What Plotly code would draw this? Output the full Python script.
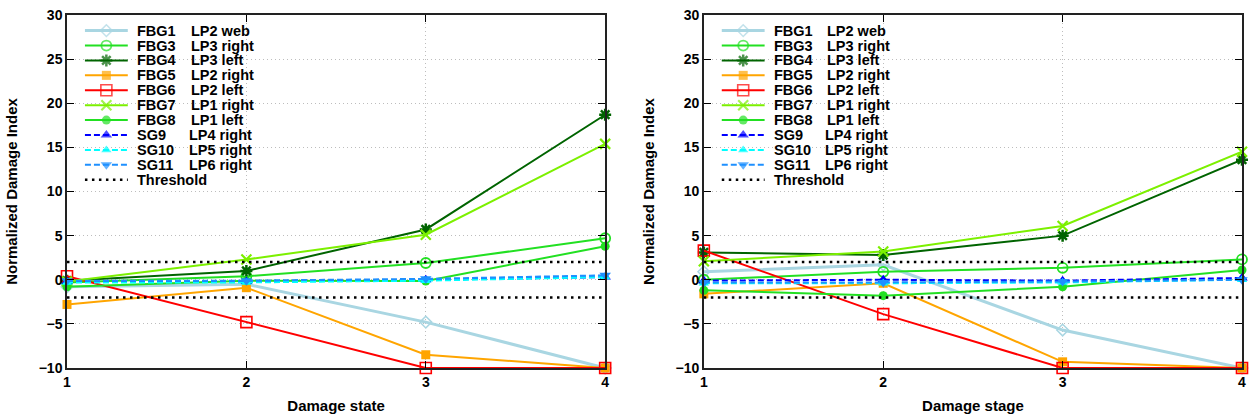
import plotly.graph_objects as go

# ---- data -------------------------------------------------------------
stages = [1, 2, 3, 4]

sensor_names = ["FBG1", "FBG3", "FBG4", "FBG5", "FBG6", "FBG7", "FBG8", "SG9", "SG10", "SG11"]
locations = ["LP2 web", "LP3 right", "LP3 left", "LP2 right", "LP2 left",
             "LP1 right", "LP1 left", "LP4 right", "LP5 right", "LP6 right"]

# Normalized damage index vs damage state (left panel)
state_fbg1 = [-0.8, -0.5, -4.8, -10.0]
state_fbg3 = [-0.3, 0.4, 1.9, 4.7]
state_fbg4 = [-0.1, 1.0, 5.7, 18.7]
state_fbg5 = [-2.8, -0.9, -8.5, -10.0]
state_fbg6 = [0.4, -4.8, -10.0, -10.0]
state_fbg7 = [-0.2, 2.3, 5.1, 15.4]
state_fbg8 = [-0.8, -0.1, -0.15, 3.8]
state_sg9 = [-0.2, -0.2, 0.0, 0.3]
state_sg10 = [-0.3, -0.3, -0.1, 0.3]
state_sg11 = [-0.1, -0.1, 0.1, 0.5]

# Normalized damage index vs damage stage (right panel)
stage_fbg1 = [0.9, 1.7, -5.7, -10.0]
stage_fbg3 = [0.0, 0.9, 1.35, 2.3]
stage_fbg4 = [3.1, 2.8, 5.0, 13.6]
stage_fbg5 = [-1.6, -0.4, -9.3, -10.0]
stage_fbg6 = [3.3, -3.9, -10.0, -10.0]
stage_fbg7 = [2.1, 3.2, 6.1, 14.5]
stage_fbg8 = [-1.2, -1.8, -0.8, 1.1]
stage_sg9 = [-0.1, 0.0, -0.1, 0.2]
stage_sg10 = [-0.4, -0.4, -0.3, 0.0]
stage_sg11 = [-0.3, -0.3, -0.2, 0.0]

threshold = 2.0
y_ticks = [-10, -5, 0, 5, 10, 15, 20, 25, 30]
x_title_left = "Damage state"
x_title_right = "Damage stage"
y_title = "Normalized Damage Index"

left_series = [state_fbg1, state_fbg3, state_fbg4, state_fbg5, state_fbg6,
               state_fbg7, state_fbg8, state_sg9, state_sg10, state_sg11]
right_series = [stage_fbg1, stage_fbg3, stage_fbg4, stage_fbg5, stage_fbg6,
                stage_fbg7, stage_fbg8, stage_sg9, stage_sg10, stage_sg11]

# ---- styles -----------------------------------------------------------
styles = [
    dict(color="#a9d6e2", width=3.0, dash="solid", symbol="diamond-open", size=9, mlw=1.5),
    dict(color="#22e022", width=2.0, dash="solid", symbol="circle-open", size=10, mlw=1.8),
    dict(color="#006400", width=2.0, dash="solid", symbol="asterisk-open", size=10, mlw=2.5),
    dict(color="#ffa500", width=2.0, dash="solid", symbol="square", size=9, mlw=0),
    dict(color="#ff0000", width=2.0, dash="solid", symbol="square-open", size=11, mlw=1.6),
    dict(color="#7cf000", width=2.0, dash="solid", symbol="x-thin-open", size=10, mlw=2.2),
    dict(color="#22e022", width=2.0, dash="solid", symbol="circle", size=9, mlw=0),
    dict(color="#0000ff", width=2.0, dash="6px,3px", symbol="triangle-up", size=10, mlw=0),
    dict(color="#00ffff", width=2.0, dash="6px,3px", symbol="triangle-up", size=9, mlw=0),
    dict(color="#1e90ff", width=2.0, dash="6px,3px", symbol="triangle-down", size=10, mlw=0),
]

FONT = "Liberation Sans, Arial, Helvetica, sans-serif"
W, H = 1253, 419
M_L, M_R, M_T, M_B = 67, 7, 15, 49
PLOT_W = W - M_L - M_R
PLOT_H = H - M_T - M_B
PANEL_W = 540
left_dom = [0.0, PANEL_W / PLOT_W]
right_dom = [1.0 - PANEL_W / PLOT_W, 1.0]

fig = go.Figure()


def add_panel(series, xa, ya):
    for vals, st in zip(series, styles):
        fig.add_trace(go.Scatter(
            x=stages, y=vals, mode="lines+markers", xaxis=xa, yaxis=ya,
            line=dict(color=st["color"], width=st["width"], dash=st["dash"]),
            marker=dict(symbol=st["symbol"], size=st["size"], color=st["color"],
                        line=dict(color=st["color"], width=st["mlw"])),
            cliponaxis=False, showlegend=False, hoverinfo="skip"))
    for level in (threshold, -threshold):
        fig.add_trace(go.Scatter(
            x=[stages[0], stages[-1]], y=[level, level], mode="lines",
            xaxis=xa, yaxis=ya, line=dict(color="black", width=2.5, dash="2.5px,4.5px"),
            showlegend=False, hoverinfo="skip"))


def add_key(xa, ya, xref, yref):
    # key drawn on an overlay axis measured in pixels from the panel's top-left
    row0, step = 15.7, 15.0
    x0, x1, tx, tx2 = 18, 61, 68, 122
    for i, (st, name, loc) in enumerate(zip(styles, sensor_names, locations)):
        yy = row0 + step * i
        fig.add_trace(go.Scatter(
            x=[x0, (x0 + x1) / 2, x1], y=[yy, yy, yy], mode="lines+markers",
            xaxis=xa, yaxis=ya,
            line=dict(color=st["color"], width=st["width"], dash=st["dash"]),
            marker=dict(symbol=st["symbol"], size=[0, st["size"], 0], color=st["color"],
                        line=dict(color=st["color"], width=st["mlw"])),
            cliponaxis=False, showlegend=False, hoverinfo="skip"))
        for txt, xx in ((name, tx), (loc, tx2 - (2 if name.startswith("SG") else 0))):
            fig.add_annotation(x=xx, y=yy, xref=xref, yref=yref, text=txt,
                               showarrow=False, xanchor="left", yanchor="middle",
                               font=dict(family=FONT, size=14.5, color="black", weight="bold"))
    yy = row0 + step * len(styles)
    fig.add_trace(go.Scatter(
        x=[x0, x1], y=[yy, yy], mode="lines", xaxis=xa, yaxis=ya,
        line=dict(color="black", width=2.5, dash="2.5px,4.5px"),
        showlegend=False, hoverinfo="skip"))
    fig.add_annotation(x=tx, y=yy, xref=xref, yref=yref, text="Threshold",
                       showarrow=False, xanchor="left", yanchor="middle",
                       font=dict(family=FONT, size=14.5, color="black", weight="bold"))


add_panel(left_series, "x", "y")
add_panel(right_series, "x2", "y2")
add_key("x3", "y3", "x3", "y3")
add_key("x4", "y4", "x4", "y4")

tick_font = dict(family=FONT, size=14, color="black", weight="bold")
title_font = dict(family=FONT, size=15, color="black", weight="bold")

common_x = dict(range=[1, 4], tickvals=stages, ticks="inside", ticklen=7, tickwidth=1.2,
                tickcolor="black", showline=True, mirror="ticks", linecolor="#222222",
                linewidth=1.5, showgrid=True, gridcolor="#bdbdbd", gridwidth=1,
                griddash="1px,3px", zeroline=False, tickfont=tick_font, fixedrange=True)
common_y = dict(range=[-10, 30], tickvals=y_ticks, ticks="inside", ticklen=7, tickwidth=1.2,
                tickcolor="black", showline=True, mirror="ticks", linecolor="#222222",
                linewidth=1.5, showgrid=True, gridcolor="#bdbdbd", gridwidth=1,
                griddash="1px,3px", zeroline=False, tickfont=tick_font, fixedrange=True)
overlay = dict(visible=False, fixedrange=True, showgrid=False, zeroline=False)

fig.update_layout(
    width=W, height=H,
    margin=dict(l=M_L, r=M_R, t=M_T, b=M_B),
    paper_bgcolor="white", plot_bgcolor="rgba(0,0,0,0)",
    font=dict(family=FONT, color="black"),
    showlegend=False,
    xaxis=dict(domain=left_dom, anchor="y",
               title=dict(text=x_title_left, font=title_font, standoff=12), **common_x),
    yaxis=dict(domain=[0, 1], anchor="x",
               title=dict(text=y_title, font=title_font, standoff=17), **common_y),
    xaxis2=dict(domain=right_dom, anchor="y2",
                title=dict(text=x_title_right, font=title_font, standoff=12), **common_x),
    yaxis2=dict(domain=[0, 1], anchor="x2",
                title=dict(text=y_title, font=title_font, standoff=17), **common_y),
    xaxis3=dict(domain=left_dom, anchor="y3", range=[0, PANEL_W], **overlay),
    yaxis3=dict(domain=[0, 1], anchor="x3", range=[PLOT_H, 0], **overlay),
    xaxis4=dict(domain=right_dom, anchor="y4", range=[0, PANEL_W], **overlay),
    yaxis4=dict(domain=[0, 1], anchor="x4", range=[PLOT_H, 0], **overlay),
)

fig.write_html("out.html")
